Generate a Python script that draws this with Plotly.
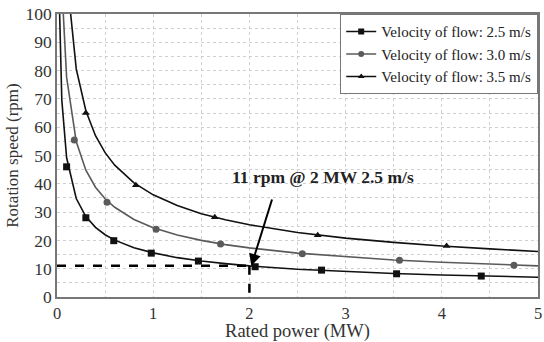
import plotly.graph_objects as go

# Curve data
power = [0.02, 0.05, 0.1, 0.2, 0.3, 0.4, 0.5, 0.6, 0.8, 1.0, 1.25, 1.5, 1.75, 2.0, 2.5, 3.0, 3.5, 4.0, 4.5, 5.0]
speed_25 = [110, 69.6, 49.2, 34.8, 28.4, 24.6, 22.0, 20.1, 17.4, 15.6, 13.9, 12.7, 11.8, 11.0, 9.8, 9.0, 8.3, 7.8, 7.3, 7.0]
speed_30 = [173, 110, 77.6, 54.9, 44.8, 38.8, 34.7, 31.7, 27.4, 24.5, 21.9, 20.0, 18.5, 17.35, 15.5, 14.2, 13.1, 12.3, 11.6, 11.0]
speed_35 = [255, 161, 114, 80.6, 65.8, 57.0, 51.0, 46.6, 40.3, 36.1, 32.3, 29.4, 27.3, 25.5, 22.8, 20.8, 19.3, 18.0, 17.0, 16.1]

# Marker positions
mk25_x = [0.10, 0.30, 0.59, 0.98, 1.47, 2.06, 2.75, 3.53, 4.41]
mk25_y = [46.0, 28.0, 19.9, 15.5, 12.7, 10.7, 9.5, 8.2, 7.4]
mk30_x = [0.18, 0.52, 1.03, 1.70, 2.55, 3.56, 4.75]
mk30_y = [55.5, 33.5, 23.9, 18.7, 15.3, 13.0, 11.2]
mk35_x = [0.30, 0.82, 1.64, 2.71, 4.05]
mk35_y = [65.0, 39.5, 28.2, 21.8, 18.0]

names = ["Velocity of flow: 2.5 m/s", "Velocity of flow: 3.0 m/s", "Velocity of flow: 3.5 m/s"]
colors = ["#111111", "#5a5a5a", "#111111"]
symbols = ["square", "circle", "triangle-up"]

FONT = "'Liberation Serif', 'Times New Roman', 'DejaVu Serif', serif"
fig = go.Figure()

series = [(speed_25, mk25_x, mk25_y), (speed_30, mk30_x, mk30_y), (speed_35, mk35_x, mk35_y)]
for (ys, mx, my), name, col, sym in zip(series, names, colors, symbols):
    fig.add_trace(go.Scatter(x=power, y=ys, mode="lines", line=dict(color=col, width=1.6),
                             showlegend=False, hoverinfo="skip"))
    fig.add_trace(go.Scatter(x=mx, y=my, mode="markers",
                             marker=dict(symbol=sym, size=7, color=col), showlegend=False))
    fig.add_trace(go.Scatter(x=[None], y=[None], mode="lines+markers", name=name,
                             line=dict(color=col, width=1.6),
                             marker=dict(symbol=sym, size=6, color=col)))

# Reference dashed lines
fig.add_shape(type="line", x0=0, y0=11, x1=2, y1=11, line=dict(color="black", width=2.5, dash="dash"))
fig.add_shape(type="line", x0=2, y0=11, x1=2, y1=0, line=dict(color="black", width=2.5, dash="dash"))

fig.add_annotation(x=2.02, y=11, ax=2.24, ay=35, xref="x", yref="y", axref="x", ayref="y",
                   text="", showarrow=True, arrowhead=2, arrowsize=1.2, arrowwidth=2, arrowcolor="black")
fig.add_annotation(x=2.77, y=42.5, xref="x", yref="y", text="<b>11 rpm @ 2 MW 2.5 m/s</b>",
                   showarrow=False, font=dict(family=FONT, size=17.5, color="#222"))

grid = dict(showgrid=True, gridcolor="#cfcfcf", griddash="dot", gridwidth=1)
fig.update_xaxes(range=[0, 5], dtick=1, tick0=0, **grid,
                 minor=dict(dtick=0.5, showgrid=True, gridcolor="#cfcfcf", griddash="dot"),
                 showline=True, linecolor="#777", linewidth=1.5, mirror=True, zeroline=False,
                 ticks="", ticklabeloverflow="allow", ticklabelstandoff=0,
                 tickfont=dict(family=FONT, size=16.5, color="#333"),
                 title=dict(text="Rated power (MW)", font=dict(family=FONT, size=18.5, color="#333"), standoff=0))
fig.update_yaxes(range=[0, 100], dtick=10, tick0=0, **grid,
                 minor=dict(dtick=5, showgrid=True, gridcolor="#cfcfcf", griddash="dot"),
                 showline=True, linecolor="#777", linewidth=1.5, mirror=True, zeroline=False,
                 ticks="", tickfont=dict(family=FONT, size=17.5, color="#333"),
                 title=dict(text="Rotation speed (rpm)", font=dict(family=FONT, size=17, color="#333"), standoff=3))

fig.update_layout(width=544, height=342, margin=dict(l=57, r=2, t=14, b=45),
                  plot_bgcolor="white", paper_bgcolor="white",
                  legend=dict(x=1, y=1, xanchor="right", yanchor="top", bgcolor="white",
                              bordercolor="#777", borderwidth=1.2,
                              font=dict(family=FONT, size=15, color="#222"),
                              tracegroupgap=0, itemwidth=30))
fig.write_html("out.html", post_script="document.body.style.margin='0';",
               config={"displayModeBar": False})
